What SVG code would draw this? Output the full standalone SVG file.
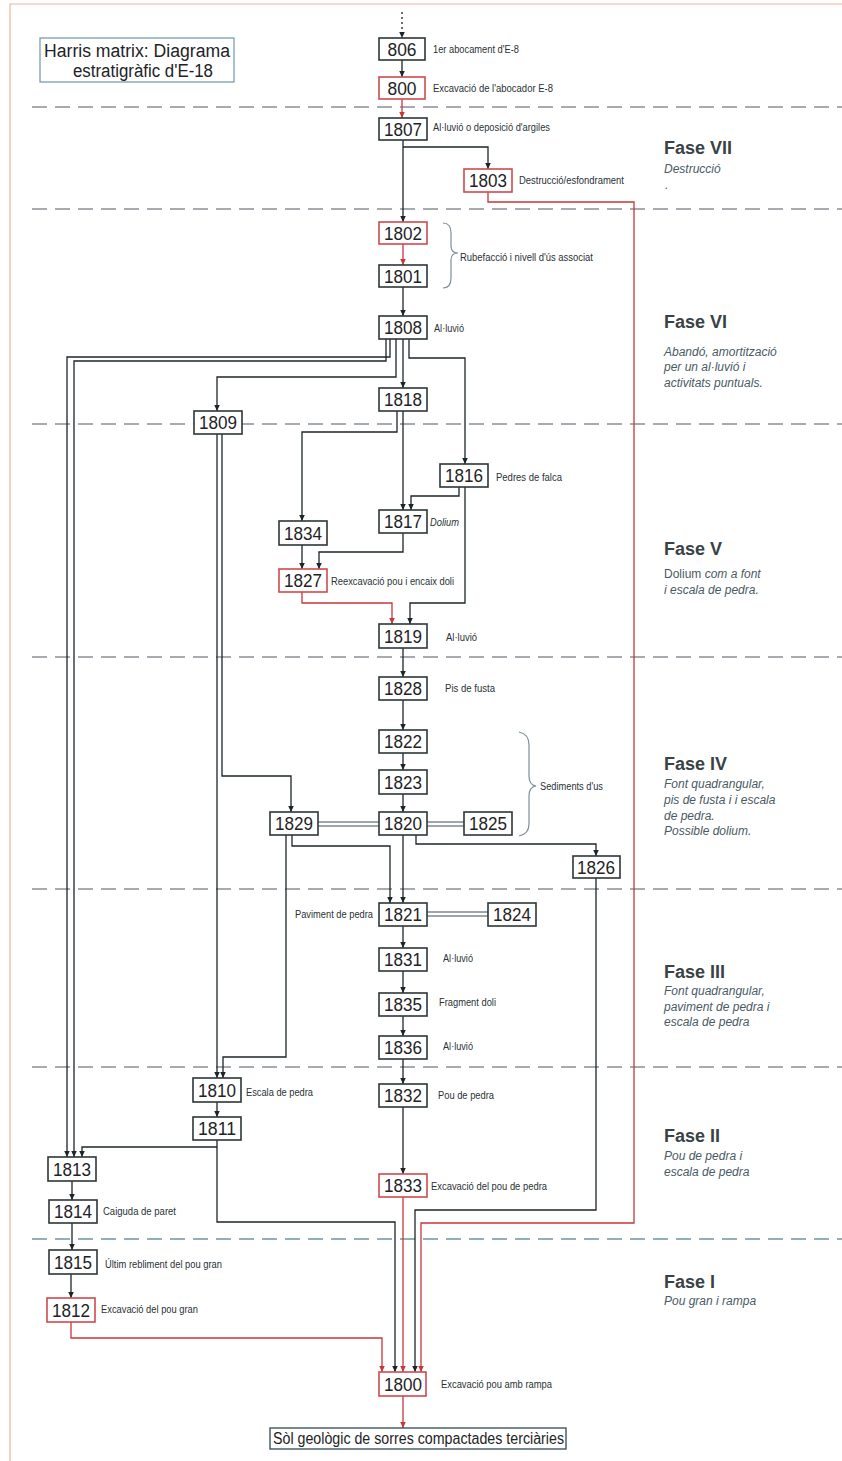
<svg xmlns="http://www.w3.org/2000/svg" width="842" height="1461" viewBox="0 0 842 1461">
<defs>
<marker id="ab" markerUnits="userSpaceOnUse" markerWidth="7" markerHeight="7" refX="6.5" refY="3" orient="auto"><path d="M0,0 L6.5,3 L0,6 z" fill="#1e2528"/></marker>
<marker id="ar" markerUnits="userSpaceOnUse" markerWidth="7" markerHeight="7" refX="6.5" refY="3" orient="auto"><path d="M0,0 L6.5,3 L0,6 z" fill="#c8363a"/></marker>
<style>
.bx{fill:#fff;stroke:#2c3639;stroke-width:1.6}
.bxr{fill:#fff;stroke:#cf4a4e;stroke-width:1.6}
.num{font-family:"Liberation Sans",Arial,sans-serif;font-size:18px;fill:#1e2326;text-anchor:middle}
.lb{font-family:"Liberation Sans",Arial,sans-serif;font-size:10px;fill:#2a3235}
.ph{font-family:"Liberation Sans",Arial,sans-serif;font-size:18px;font-weight:bold;fill:#3a4246}
.pd{font-family:"Liberation Sans",Arial,sans-serif;font-size:12px;font-style:italic;fill:#4a5a63}
.c{fill:none;stroke:#1e2528;stroke-width:1.3}
.cr{fill:none;stroke:#c8363a;stroke-width:1.3}
.eq{fill:none;stroke:#3c4c54;stroke-width:1}
.dash{fill:none;stroke:#8b8e94;stroke-width:1.3;stroke-dasharray:15 8}
.br{fill:none;stroke:#7c9099;stroke-width:1.2}
</style>
</defs>
<rect width="842" height="1461" fill="#fff"/>
<path d="M10,1461 L10,4 L842,4" fill="none" stroke="#f2b2a4" stroke-width="1.2"/>

<g id="phase-lines">
<line class="dash" x1="32" y1="107" x2="842" y2="107"/>
<line class="dash" x1="32" y1="209" x2="842" y2="209"/>
<line class="dash" x1="32" y1="424" x2="842" y2="424"/>
<line class="dash" x1="32" y1="657" x2="842" y2="657"/>
<line class="dash" x1="32" y1="889" x2="842" y2="889"/>
<line class="dash" x1="32" y1="1067" x2="842" y2="1067"/>
<line class="dash" x1="32" y1="1239" x2="842" y2="1239" style="stroke:#6f93a6"/>
</g>

<g id="title">
<rect x="40" y="38" width="194" height="44" fill="#fff" stroke="#6f97a6" stroke-width="1.2"/>
<text x="44" y="57" font-family="'Liberation Sans',Arial,sans-serif" font-size="18" fill="#1e2326" textLength="186" lengthAdjust="spacingAndGlyphs">Harris matrix:  Diagrama</text>
<text x="73" y="77" font-family="'Liberation Sans',Arial,sans-serif" font-size="18" fill="#1e2326" textLength="140" lengthAdjust="spacingAndGlyphs">estratigràfic d'E-18</text>
</g>

<g id="connectors">
<path class="c" d="M402,12 L402,38" stroke-dasharray="2 3" marker-end="url(#ab)"/>
<path class="c" d="M402,60 L402,77" marker-end="url(#ab)"/>
<path class="cr" d="M402,99 L402,118" marker-end="url(#ar)"/>
<path class="c" d="M403,140 L403,222" marker-end="url(#ab)"/>
<path class="c" d="M403,147 L488,147 L488,169" marker-end="url(#ab)"/>
<path class="cr" d="M488,192 L488,202 L634,202 L634,1223 L421,1223 L421,1372" marker-end="url(#ar)"/>
<path class="cr" d="M403,244 L403,265" marker-end="url(#ar)"/>
<path class="c" d="M403,287 L403,316" marker-end="url(#ab)"/>
<path class="c" d="M390,339 L390,357 L67,357 L67,1157" marker-end="url(#ab)"/>
<path class="c" d="M386,339 L386,361 L74,361 L74,1157" marker-end="url(#ab)"/>
<path class="c" d="M396,339 L396,377 L217,377 L217,411" marker-end="url(#ab)"/>
<path class="c" d="M403,339 L403,388" marker-end="url(#ab)"/>
<path class="c" d="M409,339 L409,358 L465,358 L465,464" marker-end="url(#ab)"/>
<path class="c" d="M403,411 L403,510" marker-end="url(#ab)"/>
<path class="c" d="M397,411 L397,432 L302,432 L302,521" marker-end="url(#ab)"/>
<path class="c" d="M459,487 L459,496 L411,496 L411,510" marker-end="url(#ab)"/>
<path class="c" d="M465,487 L465,603 L410,603 L410,624" marker-end="url(#ab)"/>
<path class="c" d="M403,533 L403,552 L319,552 L319,569" marker-end="url(#ab)"/>
<path class="c" d="M302,545 L302,569" marker-end="url(#ab)"/>
<path class="cr" d="M302,592 L302,603 L392,603 L392,624" marker-end="url(#ar)"/>
<path class="c" d="M403,648 L403,677" marker-end="url(#ab)"/>
<path class="c" d="M403,700 L403,730" marker-end="url(#ab)"/>
<path class="c" d="M403,753 L403,770" marker-end="url(#ab)"/>
<path class="c" d="M403,794 L403,812" marker-end="url(#ab)"/>
<path class="c" d="M403,835 L403,903" marker-end="url(#ab)"/>
<path class="c" d="M292,835 L292,846 L390,846 L390,903" marker-end="url(#ab)"/>
<path class="c" d="M416,835 L416,844 L596,844 L596,856" marker-end="url(#ab)"/>
<path class="c" d="M286,835 L286,1057 L223,1057 L223,1078" marker-end="url(#ab)"/>
<path class="c" d="M217,434 L217,1078" marker-end="url(#ab)"/>
<path class="c" d="M222,434 L222,776 L291,776 L291,812" marker-end="url(#ab)"/>
<path class="eq" d="M318,822 L379,822 M318,826 L379,826"/>
<path class="eq" d="M427,822 L464,822 M427,826 L464,826"/>
<path class="eq" d="M427,912 L488,912 M427,916 L488,916"/>
<path class="c" d="M403,926 L403,948" marker-end="url(#ab)"/>
<path class="c" d="M403,971 L403,993" marker-end="url(#ab)"/>
<path class="c" d="M403,1016 L403,1036" marker-end="url(#ab)"/>
<path class="c" d="M403,1059 L403,1084" marker-end="url(#ab)"/>
<path class="c" d="M403,1107 L403,1174" marker-end="url(#ab)"/>
<path class="cr" d="M403,1197 L403,1372" marker-end="url(#ar)"/>
<path class="c" d="M596,878 L596,1210 L415,1210 L415,1372" marker-end="url(#ab)"/>
<path class="c" d="M217,1102 L217,1117" marker-end="url(#ab)"/>
<path class="c" d="M217,1140 L217,1222 L395,1222 L395,1372" marker-end="url(#ab)"/>
<path class="c" d="M217,1147 L82,1147 L82,1157" marker-end="url(#ab)"/>
<path class="c" d="M72,1181 L72,1200" marker-end="url(#ab)"/>
<path class="c" d="M72,1223 L72,1250" marker-end="url(#ab)"/>
<path class="c" d="M71,1274 L71,1298" marker-end="url(#ab)"/>
<path class="cr" d="M71,1322 L71,1338 L382,1338 L382,1372" marker-end="url(#ar)"/>
<path class="cr" d="M403,1396 L403,1428" marker-end="url(#ar)"/>
<path class="br" d="M443,223 Q451,223 451,233 L451,246 Q451,253 458,253 Q451,253 451,260 L451,278 Q451,288 443,288"/>
<path class="br" d="M519,732 Q529,734 529,745 L529,776 Q529,785 536,786 Q529,787 529,796 L529,824 Q529,834 519,836"/>
</g>

<g id="n806"><rect class="bx" x="379" y="38" width="46" height="22"/><text class="num" x="402" y="56" textLength="29" lengthAdjust="spacingAndGlyphs">806</text><text class="lb" x="433" y="53" textLength="86" lengthAdjust="spacingAndGlyphs">1er abocament d'E-8</text></g>
<g id="n800"><rect class="bxr" x="379" y="77" width="46" height="22"/><text class="num" x="402" y="95" textLength="29" lengthAdjust="spacingAndGlyphs">800</text><text class="lb" x="433" y="92" textLength="120" lengthAdjust="spacingAndGlyphs">Excavació de l'abocador E-8</text></g>
<g id="n1807"><rect class="bx" x="379" y="118" width="48" height="22"/><text class="num" x="403" y="136" textLength="38" lengthAdjust="spacingAndGlyphs">1807</text><text class="lb" x="433" y="131" textLength="117" lengthAdjust="spacingAndGlyphs">Al·luvió o deposició d'argiles</text></g>
<g id="n1803"><rect class="bxr" x="464" y="169" width="48" height="23"/><text class="num" x="488" y="187" textLength="38" lengthAdjust="spacingAndGlyphs">1803</text><text class="lb" x="519" y="184" textLength="105" lengthAdjust="spacingAndGlyphs">Destrucció/esfondrament</text></g>
<g id="n1802"><rect class="bxr" x="379" y="222" width="48" height="22"/><text class="num" x="403" y="240" textLength="38" lengthAdjust="spacingAndGlyphs">1802</text></g>
<g id="n1801"><rect class="bx" x="379" y="265" width="48" height="22"/><text class="num" x="403" y="283" textLength="38" lengthAdjust="spacingAndGlyphs">1801</text><text class="lb" x="460" y="261" textLength="133" lengthAdjust="spacingAndGlyphs">Rubefacció i nivell d'ús associat</text></g>
<g id="n1808"><rect class="bx" x="379" y="316" width="48" height="23"/><text class="num" x="403" y="334" textLength="38" lengthAdjust="spacingAndGlyphs">1808</text><text class="lb" x="434" y="332" textLength="30" lengthAdjust="spacingAndGlyphs">Al·luvió</text></g>
<g id="n1818"><rect class="bx" x="379" y="388" width="48" height="23"/><text class="num" x="403" y="406" textLength="38" lengthAdjust="spacingAndGlyphs">1818</text></g>
<g id="n1809"><rect class="bx" x="194" y="411" width="48" height="23"/><text class="num" x="218" y="429" textLength="38" lengthAdjust="spacingAndGlyphs">1809</text></g>
<g id="n1816"><rect class="bx" x="440" y="464" width="48" height="23"/><text class="num" x="464" y="482" textLength="38" lengthAdjust="spacingAndGlyphs">1816</text><text class="lb" x="496" y="481" textLength="66" lengthAdjust="spacingAndGlyphs">Pedres de falca</text></g>
<g id="n1817"><rect class="bx" x="379" y="510" width="48" height="23"/><text class="num" x="403" y="528" textLength="38" lengthAdjust="spacingAndGlyphs">1817</text><text class="lb" x="430" y="526" font-style="italic" textLength="29" lengthAdjust="spacingAndGlyphs">Dolium</text></g>
<g id="n1834"><rect class="bx" x="279" y="521" width="48" height="24"/><text class="num" x="303" y="540" textLength="38" lengthAdjust="spacingAndGlyphs">1834</text></g>
<g id="n1827"><rect class="bxr" x="279" y="569" width="48" height="23"/><text class="num" x="303" y="587" textLength="38" lengthAdjust="spacingAndGlyphs">1827</text><text class="lb" x="331" y="585" textLength="123" lengthAdjust="spacingAndGlyphs">Reexcavació pou i encaix doli</text></g>
<g id="n1819"><rect class="bx" x="379" y="624" width="48" height="24"/><text class="num" x="403" y="643" textLength="38" lengthAdjust="spacingAndGlyphs">1819</text><text class="lb" x="446" y="641" textLength="31" lengthAdjust="spacingAndGlyphs">Al·luvió</text></g>
<g id="n1828"><rect class="bx" x="379" y="677" width="48" height="23"/><text class="num" x="403" y="695" textLength="38" lengthAdjust="spacingAndGlyphs">1828</text><text class="lb" x="445" y="692" textLength="50" lengthAdjust="spacingAndGlyphs">Pis de fusta</text></g>
<g id="n1822"><rect class="bx" x="379" y="730" width="48" height="23"/><text class="num" x="403" y="748" textLength="38" lengthAdjust="spacingAndGlyphs">1822</text></g>
<g id="n1823"><rect class="bx" x="379" y="770" width="48" height="24"/><text class="num" x="403" y="789" textLength="38" lengthAdjust="spacingAndGlyphs">1823</text></g>
<g id="n1820"><rect class="bx" x="379" y="812" width="48" height="23"/><text class="num" x="403" y="830" textLength="38" lengthAdjust="spacingAndGlyphs">1820</text><text class="lb" x="540" y="790" textLength="63" lengthAdjust="spacingAndGlyphs">Sediments d'us</text></g>
<g id="n1829"><rect class="bx" x="270" y="812" width="48" height="23"/><text class="num" x="294" y="830" textLength="38" lengthAdjust="spacingAndGlyphs">1829</text></g>
<g id="n1825"><rect class="bx" x="464" y="812" width="48" height="23"/><text class="num" x="488" y="830" textLength="38" lengthAdjust="spacingAndGlyphs">1825</text></g>
<g id="n1826"><rect class="bx" x="573" y="856" width="47" height="22"/><text class="num" x="596" y="874" textLength="38" lengthAdjust="spacingAndGlyphs">1826</text></g>
<g id="n1821"><rect class="bx" x="379" y="903" width="48" height="23"/><text class="num" x="403" y="921" textLength="38" lengthAdjust="spacingAndGlyphs">1821</text><text class="lb" x="295" y="918" textLength="78" lengthAdjust="spacingAndGlyphs">Paviment de pedra</text></g>
<g id="n1824"><rect class="bx" x="488" y="903" width="48" height="23"/><text class="num" x="512" y="921" textLength="38" lengthAdjust="spacingAndGlyphs">1824</text></g>
<g id="n1831"><rect class="bx" x="379" y="948" width="48" height="23"/><text class="num" x="403" y="966" textLength="38" lengthAdjust="spacingAndGlyphs">1831</text><text class="lb" x="443" y="962" textLength="30" lengthAdjust="spacingAndGlyphs">Al·luvió</text></g>
<g id="n1835"><rect class="bx" x="379" y="993" width="48" height="23"/><text class="num" x="403" y="1011" textLength="38" lengthAdjust="spacingAndGlyphs">1835</text><text class="lb" x="439" y="1006" textLength="57" lengthAdjust="spacingAndGlyphs">Fragment doli</text></g>
<g id="n1836"><rect class="bx" x="379" y="1036" width="48" height="23"/><text class="num" x="403" y="1054" textLength="38" lengthAdjust="spacingAndGlyphs">1836</text><text class="lb" x="443" y="1050" textLength="30" lengthAdjust="spacingAndGlyphs">Al·luvió</text></g>
<g id="n1810"><rect class="bx" x="193" y="1078" width="48" height="24"/><text class="num" x="217" y="1097" textLength="38" lengthAdjust="spacingAndGlyphs">1810</text><text class="lb" x="246" y="1096" textLength="67" lengthAdjust="spacingAndGlyphs">Escala de pedra</text></g>
<g id="n1832"><rect class="bx" x="379" y="1084" width="48" height="23"/><text class="num" x="403" y="1102" textLength="38" lengthAdjust="spacingAndGlyphs">1832</text><text class="lb" x="438" y="1099" textLength="56" lengthAdjust="spacingAndGlyphs">Pou de pedra</text></g>
<g id="n1811"><rect class="bx" x="193" y="1117" width="48" height="23"/><text class="num" x="217" y="1135" textLength="38" lengthAdjust="spacingAndGlyphs">1811</text></g>
<g id="n1813"><rect class="bx" x="48" y="1157" width="48" height="24"/><text class="num" x="72" y="1176" textLength="38" lengthAdjust="spacingAndGlyphs">1813</text></g>
<g id="n1833"><rect class="bxr" x="379" y="1174" width="48" height="23"/><text class="num" x="403" y="1192" textLength="38" lengthAdjust="spacingAndGlyphs">1833</text><text class="lb" x="431" y="1190" textLength="116" lengthAdjust="spacingAndGlyphs">Excavació del pou de pedra</text></g>
<g id="n1814"><rect class="bx" x="49" y="1200" width="48" height="23"/><text class="num" x="73" y="1218" textLength="38" lengthAdjust="spacingAndGlyphs">1814</text><text class="lb" x="103" y="1215" textLength="73" lengthAdjust="spacingAndGlyphs">Caiguda de paret</text></g>
<g id="n1815"><rect class="bx" x="49" y="1250" width="48" height="24"/><text class="num" x="73" y="1269" textLength="38" lengthAdjust="spacingAndGlyphs">1815</text><text class="lb" x="105" y="1268" textLength="117" lengthAdjust="spacingAndGlyphs">Últim rebliment del pou gran</text></g>
<g id="n1812"><rect class="bxr" x="47" y="1298" width="48" height="24"/><text class="num" x="71" y="1317" textLength="38" lengthAdjust="spacingAndGlyphs">1812</text><text class="lb" x="101" y="1313" textLength="97" lengthAdjust="spacingAndGlyphs">Excavació del pou gran</text></g>
<g id="n1800"><rect class="bxr" x="379" y="1372" width="47" height="24"/><text class="num" x="403" y="1391" textLength="38" lengthAdjust="spacingAndGlyphs">1800</text><text class="lb" x="441" y="1388" textLength="111" lengthAdjust="spacingAndGlyphs">Excavació pou amb rampa</text></g>
<g id="nsol"><rect x="270" y="1428" width="296" height="21" fill="#fff" stroke="#3e5660" stroke-width="1.4"/><text x="273" y="1444" font-family="'Liberation Sans',Arial,sans-serif" font-size="16" fill="#1e2326" textLength="291" lengthAdjust="spacingAndGlyphs">Sòl geològic de sorres compactades terciàries</text></g>

<g id="phases">
<text class="ph" x="664" y="154">Fase VII</text>
<text class="pd" x="664" y="173">Destrucció</text>
<text class="pd" x="665" y="189">.</text>
<text class="ph" x="664" y="328">Fase VI</text>
<text class="pd" x="664" y="356">Abandó, amortització</text>
<text class="pd" x="664" y="371">per un al·luvió i</text>
<text class="pd" x="664" y="387">activitats puntuals.</text>
<text class="ph" x="664" y="555">Fase V</text>
<text class="pd" x="664" y="578"><tspan font-style="normal">Dolium</tspan> com a font</text>
<text class="pd" x="664" y="594">i escala de pedra.</text>
<text class="ph" x="664" y="770">Fase IV</text>
<text class="pd" x="664" y="788">Font quadrangular,</text>
<text class="pd" x="664" y="804">pis de fusta i i escala</text>
<text class="pd" x="664" y="820">de pedra.</text>
<text class="pd" x="664" y="835">Possible dolium.</text>
<text class="ph" x="664" y="978">Fase III</text>
<text class="pd" x="664" y="995">Font quadrangular,</text>
<text class="pd" x="664" y="1011">paviment de pedra i</text>
<text class="pd" x="664" y="1026">escala de pedra</text>
<text class="ph" x="664" y="1142">Fase II</text>
<text class="pd" x="664" y="1160">Pou de pedra i</text>
<text class="pd" x="664" y="1176">escala de pedra</text>
<text class="ph" x="664" y="1288">Fase I</text>
<text class="pd" x="664" y="1305">Pou gran i rampa</text>
</g>
</svg>
